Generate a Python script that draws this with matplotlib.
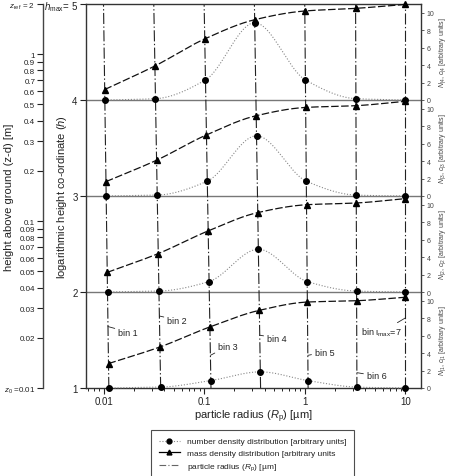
import numpy as np
import matplotlib
matplotlib.use("Agg")
import matplotlib.pyplot as plt
from matplotlib.lines import Line2D
from matplotlib.ticker import NullFormatter, NullLocator, LogLocator

plt.rcParams['font.family'] = ['Liberation Sans', 'DejaVu Sans']
plt.rcParams['mathtext.fontset'] = 'custom'
plt.rcParams['mathtext.rm'] = 'Liberation Sans'
plt.rcParams['mathtext.it'] = 'Liberation Sans:italic'
plt.rcParams['mathtext.bf'] = 'Liberation Sans:bold'

# ── data ──────────────────────────────────────────────────────────────────────
# particle radius of each bin at h_max = 5 (top) and at h = 1 (ground)
radius_top = [0.01, 0.0316, 0.1, 0.316, 1.0, 3.2, 10.0]
radius_bottom = [0.0113, 0.037, 0.117, 0.364, 1.08, 3.3, 10.0]

# one number / mass density series per height level (h = 1 .. 4)
number_h1 = [0.0, 0.1, 0.85, 1.85, 0.85, 0.1, 0.0]
number_h2 = [0.0, 0.1, 1.2, 4.9, 1.2, 0.1, 0.0]
number_h3 = [0.0, 0.1, 1.7, 6.9, 1.7, 0.1, 0.0]
number_h4 = [0.0, 0.15, 2.3, 8.85, 2.3, 0.15, 0.0]
mass_h1 = [2.8, 4.7, 7.0, 8.9, 9.85, 10.0, 10.4]
mass_h2 = [2.25, 4.4, 7.0, 9.1, 10.0, 10.2, 10.7]
mass_h3 = [1.65, 4.1, 7.0, 9.2, 10.15, 10.35, 10.85]
mass_h4 = [1.2, 3.9, 7.0, 9.2, 10.2, 10.5, 10.95]

levels = [1, 2, 3, 4]
number_series = [number_h1, number_h2, number_h3, number_h4]
mass_series = [mass_h1, mass_h2, mass_h3, mass_h4]

h_ticks = [1, 2, 3, 4, 5]
h_labels = ["1", "2", "3", "4", "$h_{\\rm max}$= 5"]

z_ticks = [0.01, 0.02, 0.03, 0.04, 0.05, 0.06, 0.07, 0.08, 0.09,
           0.1, 0.2, 0.3, 0.4, 0.5, 0.6, 0.7, 0.8, 0.9, 1, 2]
z_labels = ["$z_0$ =0.01", "0.02", "0.03", "0.04", "0.05", "0.06", "0.07",
            "0.08", "0.09", "0.1", "0.2", "0.3", "0.4", "0.5", "0.6", "0.7",
            "0.8", "0.9", "1", "$z_{\\rm ref}$ = 2"]

x_ticks = [0.01, 0.1, 1, 10]
x_labels = ["0.01", "0.1", "1", "10"]
right_ticks = [0, 2, 4, 6, 8, 10]

VMAX = 11.0          # right-axis units spanned by one height level
XLIM = (0.0067, 14.3)
TXT = "#222222"


def line_r(i, h):
    """radius of bin i at height h (straight in log-r)."""
    lb, lt = np.log10(radius_bottom[i]), np.log10(radius_top[i])
    return 10 ** (lb + (h - 1) / 4.0 * (lt - lb))


def pchip(x, y, xs):
    """monotone cubic curve through the points, for drawing smooth lines."""
    x = np.asarray(x, float); y = np.asarray(y, float)
    hk = np.diff(x); dk = np.diff(y) / hk
    m = np.zeros_like(y)
    for i in range(1, len(y) - 1):
        if dk[i - 1] * dk[i] > 0:
            w1 = 2 * hk[i] + hk[i - 1]; w2 = hk[i] + 2 * hk[i - 1]
            m[i] = (w1 + w2) / (w1 / dk[i - 1] + w2 / dk[i])
    m[0], m[-1] = dk[0], dk[-1]
    idx = np.clip(np.searchsorted(x, xs) - 1, 0, len(x) - 2)
    t = (xs - x[idx]) / hk[idx]
    h00 = 2*t**3 - 3*t**2 + 1; h10 = t**3 - 2*t**2 + t
    h01 = -2*t**3 + 3*t**2; h11 = t**3 - t**2
    return (h00 * y[idx] + h10 * hk[idx] * m[idx]
            + h01 * y[idx + 1] + h11 * hk[idx] * m[idx + 1])


W_PX, H_PX = 453, 477
fig = plt.figure(figsize=(W_PX / 100, H_PX / 100), dpi=100)
L, R, T, B = 86 / W_PX, 421 / W_PX, 1 - 5 / H_PX, 1 - 389 / H_PX
AW, AH = R - L, T - B

# ── main axes: log radius vs logarithmic height ──────────────────────────────
ax = fig.add_axes([L, B, AW, AH])
ax.set_xscale('log')
ax.set_xlim(*XLIM)
ax.set_ylim(1, 5)
ax.set_yticks(h_ticks)
ax.set_yticklabels(h_labels)
ax.set_xticks(x_ticks)
ax.set_xticklabels(x_labels)
ax.xaxis.set_minor_locator(LogLocator(subs=np.arange(2, 10)))
ax.xaxis.set_minor_formatter(NullFormatter())
ax.tick_params(axis='both', which='major', direction='out', length=4,
               width=0.8, labelsize=7, colors=TXT, pad=2)
ax.tick_params(axis='x', which='minor', direction='out', length=2, width=0.6)
for s in ax.spines.values():
    s.set_linewidth(1.0)
    s.set_color('#333333')
for k in levels[1:]:
    ax.axhline(k, color='#777777', lw=1.0, zorder=1)

for i in range(len(radius_top)):
    ax.plot([radius_bottom[i], radius_top[i]], [1, 5], color='#222222',
            lw=0.8, ls=(0, (10, 2.2, 1.2, 2.2)), zorder=2)

ax.set_xlabel("particle radius ($R_{\\rm p}$) [µm]", fontsize=8, color=TXT,
              labelpad=1)
ax.set_ylabel("logarithmic height co-ordinate ($h$)", fontsize=8, color=TXT)
ax.yaxis.set_label_coords(-0.05, 0.5)

# bin annotations: (text, bin, h on bin line, text x, text y, alignment)
bin_notes = [
    ("bin 1", 0, 1.64, 0.0140, 1.583, 'left'),
    ("bin 2", 1, 1.75, 0.0430, 1.708, 'left'),
    ("bin 3", 2, 1.34, 0.138, 1.4375, 'left'),
    ("bin 4", 3, 1.55, 0.4217, 1.52, 'left'),
    ("bin 5", 4, 1.34, 1.262, 1.375, 'left'),
    ("bin 6", 5, 1.16, 4.14, 1.125, 'left'),
    ("bin ι$_{\\rm max}$=7", 6, 1.73, 9.25, 1.583, 'right'),
]
for txt, i, hl, xt, yt, ha in bin_notes:
    ax.annotate(txt, xy=(line_r(i, hl), hl), xytext=(xt, yt),
                fontsize=6.5, color=TXT, ha=ha, va='center',
                arrowprops=dict(arrowstyle='-', lw=0.6, color='#222222',
                                shrinkA=0.5, shrinkB=0), zorder=6)

# ── height above ground axis on the left ─────────────────────────────────────
zax = fig.add_axes([43 / W_PX, B, 0.002, AH])
zax.patch.set_alpha(0)
zax.set_yscale('log')
zax.set_ylim(0.01, 2)
zax.set_yticks(z_ticks)
zax.set_yticklabels(z_labels)
zax.yaxis.set_minor_locator(NullLocator())
zax.set_xticks([])
for side in ['right', 'top', 'bottom']:
    zax.spines[side].set_visible(False)
zax.spines['left'].set_linewidth(1.0)
zax.spines['left'].set_color('#444444')
zax.tick_params(axis='y', direction='out', length=4, width=0.8,
                labelsize=5.8, colors=TXT, pad=1.5)
zax.set_ylabel("height above ground (z-d) [m]", fontsize=8, color=TXT)
zax.yaxis.set_label_coords(14 / W_PX, B + AH / 2, transform=fig.transFigure)

# ── one panel per height level with its own right axis ───────────────────────
for k, num, mass in zip(levels, number_series, mass_series):
    pax = fig.add_axes([L, B + (k - 1) * AH / 4, AW, AH / 4])
    pax.patch.set_alpha(0)
    pax.set_xscale('log')
    pax.set_xlim(*XLIM)
    pax.set_ylim(0, VMAX)
    for s in pax.spines.values():
        s.set_visible(False)
    pax.tick_params(axis='x', which='both', bottom=False, labelbottom=False)
    pax.yaxis.tick_right()
    pax.yaxis.set_label_position('right')
    pax.set_yticks(right_ticks)
    pax.tick_params(axis='y', direction='out', length=2.5, width=0.6,
                    labelsize=5, colors='#444444', pad=1.5)
    pax.set_ylabel(f"$N_{{|{k}}}$, $c_{{|{k}}}$ [arbitrary units]",
                   fontsize=5, color='#444444', labelpad=2)

    for vals, mk, ls, col, lw in [
            (num, 'o', (0, (1, 1.6)), '#888888', 0.8),
            (mass, '^', (0, (6, 2)), '#111111', 0.9)]:
        vals = np.asarray(vals)
        h = k + vals / VMAX
        xr = np.array([line_r(i, hh) for i, hh in enumerate(h)])
        lx = np.log10(xr)
        xs = np.linspace(lx[0], lx[-1], 300)
        ys = pchip(lx, vals, xs)
        pax.plot(10 ** xs, ys, color=col, lw=lw, ls=ls, zorder=3,
                 clip_on=False)
        pax.plot(xr, vals, ls='none', marker=mk, ms=4, color='black',
                 zorder=4, clip_on=False)

# ── legend ────────────────────────────────────────────────────────────────────
handles = [
    Line2D([], [], color='#888888', ls=(0, (1, 1.6)), lw=0.8, marker='o',
           ms=3.5, mfc='black', mec='black'),
    Line2D([], [], color='black', ls='-', lw=0.9, marker='^', ms=3.5),
    Line2D([], [], color='#666666', ls=(0, (6, 2, 1, 2)), lw=0.8),
]
labels = ["number density distribution [arbitrary units]",
          "mass density distribution [arbitrary units",
          "particle radius ($R_{\\rm p}$) [µm]"]
leg = fig.legend(handles, labels, loc='upper center',
                 bbox_to_anchor=(252.5 / W_PX, 1 - 427 / H_PX),
                 fontsize=6, frameon=True, fancybox=False,
                 handlelength=2.6, borderpad=0.9, labelspacing=0.45,
                 handletextpad=0.8)
leg.get_frame().set_edgecolor('#222222')
leg.get_frame().set_linewidth(0.8)
for t in leg.get_texts():
    t.set_color(TXT)

fig.savefig("out.png", dpi=100)
